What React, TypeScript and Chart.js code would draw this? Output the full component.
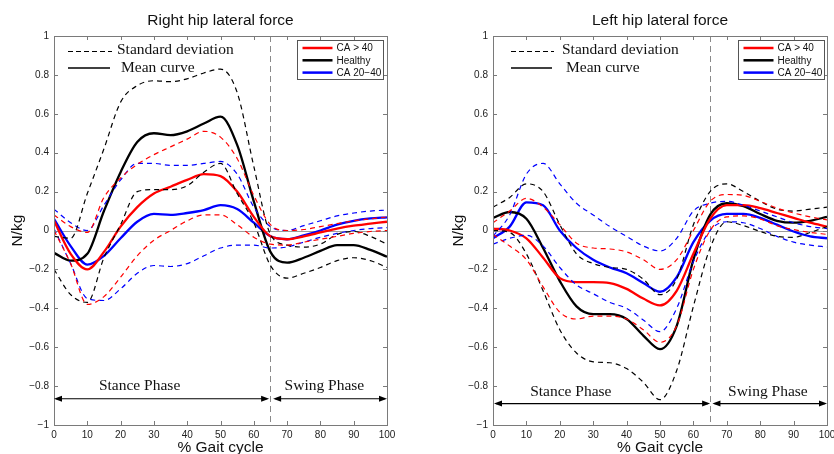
import React, { useEffect, useRef } from 'react';
import { Chart, registerables } from 'chart.js';

Chart.register(...registerables);

// ---------- data ----------
const gaitPct = [0, 5, 10, 15, 20, 25, 30, 35, 40, 45, 50, 55, 60, 65, 70, 75, 80, 85, 90, 95, 100];

// Right hip lateral force (N/kg)
const rhRedMean = [0.05, -0.12, -0.2, -0.11, 0.02, 0.12, 0.19, 0.225, 0.26, 0.29, 0.28, 0.2, 0.07, -0.03, -0.045, -0.03, -0.01, 0.01, 0.025, 0.035, 0.045];
const rhRedUpper = [0.08, 0.02, -0.01, 0.17, 0.27, 0.34, 0.39, 0.43, 0.47, 0.51, 0.48, 0.37, 0.18, 0.03, 0.0, 0.005, 0.02, 0.035, 0.05, 0.06, 0.07];
const rhRedLower = [0.0, -0.17, -0.38, -0.34, -0.24, -0.13, -0.05, 0.0, 0.05, 0.08, 0.08, 0.03, -0.035, -0.07, -0.075, -0.06, -0.045, -0.03, -0.015, -0.005, 0.0];
const rhBlackMean = [-0.115, -0.155, -0.12, 0.1, 0.3, 0.455, 0.5, 0.49, 0.51, 0.55, 0.585, 0.44, 0.15, -0.11, -0.165, -0.14, -0.105, -0.075, -0.075, -0.1, -0.135];
const rhBlackUpper = [-0.03, -0.04, 0.19, 0.42, 0.66, 0.745, 0.77, 0.765, 0.78, 0.81, 0.83, 0.71, 0.33, -0.02, -0.075, -0.085, -0.07, -0.02, -0.005, -0.03, -0.07];
const rhBlackLower = [-0.2, -0.33, -0.37, -0.14, 0.03, 0.2, 0.21, 0.21, 0.23, 0.3, 0.345, 0.19, 0.04, -0.18, -0.245, -0.22, -0.19, -0.155, -0.14, -0.155, -0.19];
const rhBlueMean = [0.06, -0.08, -0.175, -0.13, -0.04, 0.045, 0.085, 0.08, 0.09, 0.105, 0.13, 0.11, 0.04, -0.03, -0.045, -0.025, 0.0, 0.03, 0.05, 0.062, 0.068];
const rhBlueUpper = [0.11, 0.04, 0.0, 0.13, 0.26, 0.345, 0.345, 0.335, 0.335, 0.345, 0.355, 0.29, 0.12, 0.02, 0.0, 0.025, 0.05, 0.075, 0.09, 0.1, 0.105];
const rhBlueLower = [0.01, -0.17, -0.35, -0.36, -0.3, -0.22, -0.18, -0.185, -0.17, -0.13, -0.09, -0.075, -0.075, -0.09, -0.085, -0.06, -0.035, -0.015, 0.0, 0.01, 0.015];

// Left hip lateral force (N/kg)
const lhRedMean = [0.01, 0.0, -0.04, -0.14, -0.245, -0.265, -0.265, -0.27, -0.3, -0.35, -0.385, -0.31, -0.12, 0.06, 0.13, 0.13, 0.115, 0.09, 0.065, 0.04, 0.02];
const lhRedUpper = [0.04, 0.1, 0.165, 0.12, 0.03, -0.065, -0.09, -0.095, -0.11, -0.15, -0.2, -0.15, 0.0, 0.15, 0.185, 0.18, 0.15, 0.115, 0.09, 0.07, 0.055];
const lhRedLower = [-0.02, -0.08, -0.15, -0.29, -0.42, -0.455, -0.44, -0.44, -0.455, -0.51, -0.575, -0.49, -0.2, 0.0, 0.07, 0.075, 0.06, 0.025, 0.005, -0.01, -0.02];
const lhBlackMean = [0.065, 0.095, 0.06, -0.09, -0.26, -0.39, -0.43, -0.43, -0.455, -0.54, -0.61, -0.49, -0.15, 0.08, 0.14, 0.125, 0.085, 0.05, 0.04, 0.05, 0.07];
const lhBlackUpper = [0.12, 0.17, 0.24, 0.2, 0.03, -0.12, -0.17, -0.19, -0.2, -0.25, -0.33, -0.25, 0.03, 0.2, 0.24, 0.2, 0.15, 0.11, 0.1, 0.11, 0.12];
const lhBlackLower = [0.0, -0.01, -0.12, -0.31, -0.51, -0.63, -0.675, -0.68, -0.71, -0.78, -0.87, -0.72, -0.39, -0.09, 0.045, 0.025, -0.005, -0.03, -0.035, -0.01, 0.02];
const lhBlueMean = [-0.04, 0.02, 0.145, 0.13, 0.0, -0.09, -0.15, -0.19, -0.22, -0.27, -0.315, -0.24, -0.06, 0.05, 0.085, 0.085, 0.065, 0.03, -0.005, -0.03, -0.04];
const lhBlueUpper = [-0.03, 0.08, 0.29, 0.345, 0.24, 0.14, 0.08, 0.02, -0.03, -0.08, -0.105, -0.04, 0.1, 0.14, 0.15, 0.13, 0.1, 0.07, 0.04, 0.02, 0.01];
const lhBlueLower = [-0.07, -0.04, -0.025, -0.08, -0.19, -0.28, -0.325, -0.37, -0.4, -0.46, -0.52, -0.4, -0.16, 0.0, 0.045, 0.04, 0.01, -0.03, -0.06, -0.075, -0.085];

const groupNames = ['CA > 40', 'Healthy', 'CA 20\u221240'];
const xTickValues = [0, 10, 20, 30, 40, 50, 60, 70, 80, 90, 100];
const yTickValues = [-1, -0.8, -0.6, -0.4, -0.2, 0, 0.2, 0.4, 0.6, 0.8, 1];
const swingStart = 65;

// ---------- styles ----------
const RED = 'rgb(255,0,0)';
const BLACK = 'rgb(0,0,0)';
const BLUE = 'rgb(0,0,255)';
const GROUP_COLORS = [RED, BLACK, BLUE];
const SANS = '"Liberation Sans", Arial, Helvetica, sans-serif';
const SERIF = '"Liberation Serif", "Times New Roman", Times, serif';
const AXIS_GRAY = '#7a7a7a';

type Series = { mean: number[]; upper: number[]; lower: number[] };

interface PanelCfg {
  title: string;
  groups: Series[];
  yAxisWidth: number;
  padRight: number;
  yLabelOffset: number;
  annot: { lineX0: number; lineX1: number; sdTextX: number; meanTextX: number };
  arrowY: number;
  phaseTextY: number;
  stanceX: number;
  swingX: number;
  stanceArrow: [number, number];
  swingArrow: [number, number];
  legendInset: number;
}

const panels: PanelCfg[] = [
  {
    title: 'Right hip lateral force',
    groups: [
      { mean: rhRedMean, upper: rhRedUpper, lower: rhRedLower },
      { mean: rhBlackMean, upper: rhBlackUpper, lower: rhBlackLower },
      { mean: rhBlueMean, upper: rhBlueUpper, lower: rhBlueLower },
    ],
    yAxisWidth: 54,
    padRight: 30,
    yLabelOffset: 36,
    annot: { lineX0: 14, lineX1: 58, sdTextX: 63, meanTextX: 67 },
    arrowY: -0.865,
    phaseTextY: -0.8,
    stanceX: 25.7,
    swingX: 81.2,
    stanceArrow: [0, 64.6],
    swingArrow: [65.8, 100],
    legendInset: 4,
  },
  {
    title: 'Left hip lateral force',
    groups: [
      { mean: lhRedMean, upper: lhRedUpper, lower: lhRedLower },
      { mean: lhBlackMean, upper: lhBlackUpper, lower: lhBlackLower },
      { mean: lhBlueMean, upper: lhBlueUpper, lower: lhBlueLower },
    ],
    yAxisWidth: 76,
    padRight: 7,
    yLabelOffset: 34,
    annot: { lineX0: 18, lineX1: 61, sdTextX: 69, meanTextX: 73 },
    arrowY: -0.89,
    phaseTextY: -0.83,
    stanceX: 23.3,
    swingX: 82.3,
    stanceArrow: [0.3, 65],
    swingArrow: [65.7, 100],
    legendInset: 3,
  },
];

function toPoints(ys: number[]) {
  return gaitPct.map((x, i) => ({ x, y: ys[i] }));
}

function fmtY(v: number) {
  if (Math.abs(v) < 1e-9) return '0';
  const s = parseFloat(Math.abs(v).toFixed(1)).toString();
  return (v < 0 ? '\u2212' : '') + s;
}

function drawArrow(ctx: CanvasRenderingContext2D, x1: number, x2: number, y: number) {
  ctx.beginPath();
  ctx.moveTo(x1 + 2, y);
  ctx.lineTo(x2 - 2, y);
  ctx.stroke();
  const hl = 8;
  const hw = 3;
  ctx.beginPath();
  ctx.moveTo(x1, y);
  ctx.lineTo(x1 + hl, y - hw);
  ctx.lineTo(x1 + hl, y + hw);
  ctx.closePath();
  ctx.fill();
  ctx.beginPath();
  ctx.moveTo(x2, y);
  ctx.lineTo(x2 - hl, y - hw);
  ctx.lineTo(x2 - hl, y + hw);
  ctx.closePath();
  ctx.fill();
}

function makeDecor(cfg: PanelCfg) {
  return {
    id: 'decor',
    beforeDatasetsDraw(chart: any) {
      const { ctx, chartArea: a, scales } = chart;
      const x = scales.x;
      const y = scales.y;
      ctx.save();
      ctx.lineWidth = 1;
      ctx.strokeStyle = '#9c9c9c';
      const y0 = Math.round(y.getPixelForValue(0)) + 0.5;
      ctx.beginPath();
      ctx.moveTo(a.left, y0);
      ctx.lineTo(a.right, y0);
      ctx.stroke();
      ctx.setLineDash([6, 4]);
      ctx.strokeStyle = '#8a8a8a';
      const xv = Math.round(x.getPixelForValue(swingStart)) + 0.5;
      ctx.beginPath();
      ctx.moveTo(xv, a.top);
      ctx.lineTo(xv, a.bottom);
      ctx.stroke();
      ctx.restore();
    },
    afterDatasetsDraw(chart: any) {
      const { ctx, chartArea: a, scales } = chart;
      const x = scales.x;
      const y = scales.y;
      ctx.save();
      // box + inward ticks
      ctx.strokeStyle = AXIS_GRAY;
      ctx.lineWidth = 1;
      ctx.strokeRect(Math.round(a.left) + 0.5, Math.round(a.top) + 0.5, Math.round(a.right - a.left), Math.round(a.bottom - a.top));
      ctx.beginPath();
      for (const v of xTickValues) {
        const px = Math.round(x.getPixelForValue(v)) + 0.5;
        ctx.moveTo(px, a.bottom);
        ctx.lineTo(px, a.bottom - 4);
        ctx.moveTo(px, a.top);
        ctx.lineTo(px, a.top + 4);
      }
      for (const v of yTickValues) {
        const py = Math.round(y.getPixelForValue(v)) + 0.5;
        ctx.moveTo(a.left, py);
        ctx.lineTo(a.left + 4, py);
        ctx.moveTo(a.right, py);
        ctx.lineTo(a.right - 4, py);
      }
      ctx.stroke();

      // annotation: SD / mean samples
      ctx.strokeStyle = '#000';
      ctx.lineWidth = 1.1;
      ctx.setLineDash([5, 3]);
      ctx.beginPath();
      ctx.moveTo(a.left + cfg.annot.lineX0, 51.5);
      ctx.lineTo(a.left + cfg.annot.lineX1, 51.5);
      ctx.stroke();
      ctx.setLineDash([]);
      ctx.lineWidth = 1.3;
      ctx.beginPath();
      ctx.moveTo(a.left + cfg.annot.lineX0, 68);
      ctx.lineTo(a.left + cfg.annot.lineX1 - 2, 68);
      ctx.stroke();
      ctx.fillStyle = '#111';
      ctx.font = `15.5px ${SERIF}`;
      ctx.textAlign = 'left';
      ctx.textBaseline = 'middle';
      ctx.fillText('Standard deviation', a.left + cfg.annot.sdTextX, 50);
      ctx.fillText('Mean curve', a.left + cfg.annot.meanTextX, 67.5);

      // phase arrows and labels
      ctx.fillStyle = '#000';
      ctx.strokeStyle = '#000';
      ctx.lineWidth = 1.2;
      const ay = y.getPixelForValue(cfg.arrowY);
      drawArrow(ctx, x.getPixelForValue(cfg.stanceArrow[0]), x.getPixelForValue(cfg.stanceArrow[1]), ay);
      drawArrow(ctx, x.getPixelForValue(cfg.swingArrow[0]), x.getPixelForValue(cfg.swingArrow[1]), ay);
      ctx.fillStyle = '#111';
      ctx.font = `15.5px ${SERIF}`;
      ctx.textAlign = 'center';
      const ty = y.getPixelForValue(cfg.phaseTextY);
      ctx.fillText('Stance Phase', x.getPixelForValue(cfg.stanceX), ty);
      ctx.fillText('Swing Phase', x.getPixelForValue(cfg.swingX), ty);

      // legend box
      const lw = 86;
      const lh = 39;
      const lx = Math.round(a.right - cfg.legendInset - lw) + 0.5;
      const ly = Math.round(a.top + 4) + 0.5;
      ctx.fillStyle = '#fff';
      ctx.fillRect(lx, ly, lw, lh);
      ctx.strokeStyle = '#555';
      ctx.lineWidth = 1;
      ctx.strokeRect(lx, ly, lw, lh);
      ctx.font = `10px ${SANS}`;
      ctx.textAlign = 'left';
      ctx.textBaseline = 'middle';
      groupNames.forEach((name, i) => {
        const ry = ly + 7.5 + i * 12.3;
        ctx.strokeStyle = GROUP_COLORS[i];
        ctx.lineWidth = 2.5;
        ctx.beginPath();
        ctx.moveTo(lx + 5, ry);
        ctx.lineTo(lx + 35, ry);
        ctx.stroke();
        ctx.fillStyle = '#111';
        ctx.fillText(name, lx + 39, ry + 0.5);
      });

      // titles
      const cx = (a.left + a.right) / 2;
      ctx.fillStyle = '#111';
      ctx.font = `15.5px ${SANS}`;
      ctx.textAlign = 'center';
      ctx.textBaseline = 'middle';
      ctx.fillText(cfg.title, cx, 21);
      ctx.fillText('% Gait cycle', cx, 448);
      ctx.save();
      ctx.translate(a.left - cfg.yLabelOffset, (a.top + a.bottom) / 2);
      ctx.rotate(-Math.PI / 2);
      ctx.fillText('N/kg', 0, 0);
      ctx.restore();
      ctx.restore();
    },
  };
}

function Panel({ cfg }: { cfg: PanelCfg }) {
  const ref = useRef<HTMLCanvasElement | null>(null);
  useEffect(() => {
    if (!ref.current) return;
    const datasets: any[] = [];
    cfg.groups.forEach((g, i) => {
      [g.upper, g.lower].forEach((arr) => {
        datasets.push({
          data: toPoints(arr),
          borderColor: GROUP_COLORS[i],
          borderWidth: 1.2,
          borderDash: [5, 4],
          pointRadius: 0,
          fill: false,
          cubicInterpolationMode: 'monotone',
        });
      });
    });
    cfg.groups.forEach((g, i) => {
      datasets.push({
        label: groupNames[i],
        data: toPoints(g.mean),
        borderColor: GROUP_COLORS[i],
        borderWidth: 2.3,
        pointRadius: 0,
        fill: false,
        cubicInterpolationMode: 'monotone',
      });
    });
    const chart = new Chart(ref.current, {
      type: 'line',
      data: { datasets },
      options: {
        animation: false,
        responsive: true,
        maintainAspectRatio: false,
        parsing: false as any,
        layout: { padding: { top: 36, right: cfg.padRight, left: 0, bottom: 0 } },
        plugins: {
          legend: { display: false },
          tooltip: { enabled: false },
          title: { display: false },
        },
        scales: {
          x: {
            type: 'linear',
            min: 0,
            max: 100,
            grid: { display: false, drawTicks: false },
            border: { display: false },
            ticks: {
              stepSize: 10,
              padding: 4,
              autoSkip: false,
              maxRotation: 0,
              color: '#222',
              font: { family: SANS, size: 10 },
              callback: (v: any) => String(v),
            },
            afterFit(s: any) {
              s.height = 29;
              s.paddingLeft = 0;
              s.paddingRight = 0;
            },
          },
          y: {
            type: 'linear',
            min: -1,
            max: 1,
            grid: { display: false, drawTicks: false },
            border: { display: false },
            ticks: {
              stepSize: 0.2,
              padding: 5,
              color: '#222',
              font: { family: SANS, size: 10 },
              callback: (v: any) => fmtY(Number(v)),
            },
            afterFit(s: any) {
              s.width = cfg.yAxisWidth;
              s.paddingTop = 0;
              s.paddingBottom = 0;
            },
          },
        },
      },
      plugins: [makeDecor(cfg)],
    } as any);
    return () => chart.destroy();
  }, [cfg]);
  return (
    <div style={{ position: 'relative', width: 417, height: 454 }}>
      <canvas ref={ref} />
    </div>
  );
}

export default function App() {
  return (
    <div style={{ position: 'fixed', left: 0, top: 0, width: 834, height: 454, display: 'flex', background: '#fff', overflow: 'hidden' }}>
      {panels.map((p) => (
        <Panel key={p.title} cfg={p} />
      ))}
    </div>
  );
}
